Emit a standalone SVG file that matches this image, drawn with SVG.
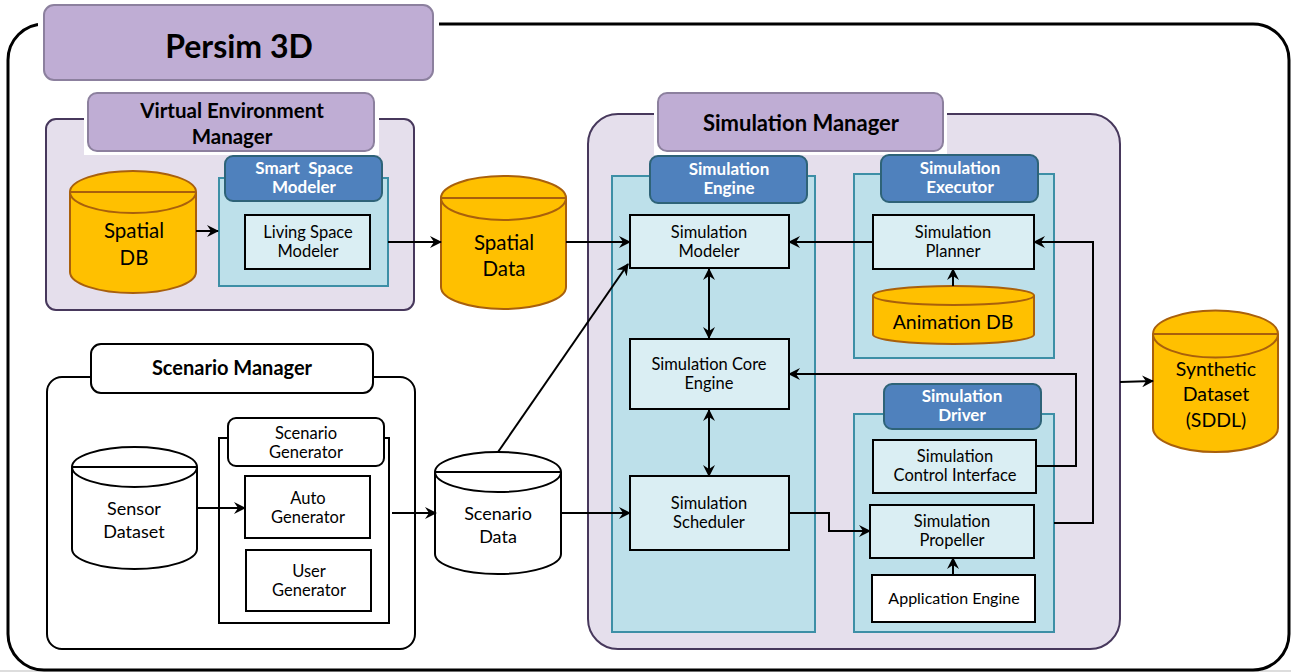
<svg xmlns="http://www.w3.org/2000/svg" width="1291" height="672" viewBox="0 0 1291 672">
<style>
text{font-family:Lato,"Open Sans","Liberation Sans",sans-serif;text-anchor:middle;fill:#000}
.b{font-weight:bold}
.w{fill:#fff;font-weight:bold;font-size:17px}
.t15{font-size:16.5px}
.t18{font-size:18px}
.t19{font-size:19.5px}
.hdr{fill:#bfadd4;stroke:#8c809e;stroke-width:2}
.cont{fill:#e5dfec;stroke:#47385c;stroke-width:2}
.panel{fill:#bde0ea;stroke:#3d8fa6;stroke-width:2}
.bhdr{fill:#4f81bd;stroke:#2e6378;stroke-width:2}
.box{fill:#daeef3;stroke:#000;stroke-width:2}
.wbox{fill:#fff;stroke:#000;stroke-width:2}
.cyl{fill:#ffc000;stroke:#a9600c;stroke-width:2}
.wcyl{fill:#fff;stroke:#000;stroke-width:2}
.ln{fill:none;stroke:#000;stroke-width:2}
</style>
<defs>
<marker id="ah" viewBox="0 0 12 12" refX="11" refY="6" markerWidth="12" markerHeight="12" markerUnits="userSpaceOnUse" orient="auto-start-reverse">
<path d="M0,0 L12,6 L0,12 L4,6 Z" fill="#000"/>
</marker>
</defs>
<rect width="1291" height="672" fill="#fff"/>
<line x1="0" y1="671" x2="1291" y2="671" stroke="#bbb" stroke-width="1"/>
<!-- outer frame -->
<g id="frame">
<rect x="8" y="24" width="1281" height="646" rx="36" fill="none" stroke="#000" stroke-width="3"/>
<rect x="38" y="2" width="401" height="84" fill="#fff"/>
</g>
<g id="persim-title">
<rect class="hdr" x="44" y="5" width="389" height="75" rx="10"/>
<text class="b" x="239" y="58" style="font-size:32px">Persim 3D</text>
</g>
<!-- Virtual Environment Manager -->
<g id="vem">
<rect class="cont" x="46" y="119" width="368" height="191" rx="10"/>
<rect x="84" y="90" width="295" height="65" fill="#fff"/>
<rect class="hdr" x="88" y="93" width="286" height="58" rx="9"/>
<text class="b" x="232" y="118" style="font-size:20.5px">Virtual Environment</text>
<text class="b" x="232" y="144" style="font-size:20.5px">Manager</text>
</g>
<g id="spatial-db">
<path class="cyl" d="M70,192 V272 A63,21 0 0 0 196,272 V192"/>
<ellipse class="cyl" cx="133" cy="192" rx="63" ry="21"/>
<line x1="70" y1="192" x2="196" y2="192" stroke="#a9600c" stroke-width="2"/>
<text style="font-size:20.5px" x="134" y="238">Spatial</text>
<text style="font-size:20.5px" x="134" y="265">DB</text>
</g>
<g id="smart-space-modeler">
<rect class="panel" x="219" y="178" width="169" height="108"/>
<rect class="bhdr" x="225" y="156" width="157" height="45" rx="8"/>
<text class="w" x="304" y="174" xml:space="preserve">Smart  Space</text>
<text class="w" x="304" y="193">Modeler</text>
</g>
<g id="living-space-modeler">
<rect class="box" x="245" y="215" width="125" height="54"/>
<text class="t15" x="308" y="238">Living Space</text>
<text class="t15" x="308" y="257">Modeler</text>
</g>
<g id="spatial-data">
<path class="cyl" d="M441,198 V287 A62.5,22 0 0 0 566,287 V198"/>
<ellipse class="cyl" cx="503.5" cy="198" rx="62.5" ry="22"/>
<line x1="441" y1="198" x2="566" y2="198" stroke="#a9600c" stroke-width="2"/>
<text style="font-size:20.5px" x="504" y="250">Spatial</text>
<text style="font-size:20.5px" x="504" y="276">Data</text>
</g>
<!-- Simulation Manager -->
<g id="simulation-manager">
<rect class="cont" x="588" y="114" width="532" height="535" rx="30"/>
<rect x="654" y="90" width="293" height="65" fill="#fff"/>
<rect class="hdr" x="658" y="93" width="285" height="58" rx="9"/>
<text class="b" x="801" y="131" style="font-size:22px">Simulation Manager</text>
</g>
<g id="simulation-engine">
<rect class="panel" x="612" y="176" width="203" height="456"/>
<rect class="bhdr" x="650" y="156" width="157" height="47" rx="8"/>
<text class="w" x="729" y="175">Simulation</text>
<text class="w" x="729" y="194">Engine</text>
</g>
<g id="simulation-modeler">
<rect class="box" x="630" y="215" width="159" height="53"/>
<text class="t15" x="709" y="238">Simulation</text>
<text class="t15" x="709" y="257">Modeler</text>
</g>
<g id="simulation-core-engine">
<rect class="box" x="630" y="339" width="159" height="70"/>
<text class="t15" x="709" y="370">Simulation Core</text>
<text class="t15" x="709" y="389">Engine</text>
</g>
<g id="simulation-scheduler">
<rect class="box" x="630" y="476" width="159" height="74"/>
<text class="t15" x="709" y="509">Simulation</text>
<text class="t15" x="709" y="528">Scheduler</text>
</g>
<g id="simulation-executor">
<rect class="panel" x="854" y="174" width="200" height="184"/>
<rect class="bhdr" x="881" y="155" width="157" height="47" rx="8"/>
<text class="w" x="960" y="174">Simulation</text>
<text class="w" x="960" y="193">Executor</text>
</g>
<g id="simulation-planner">
<rect class="box" x="873" y="215" width="161" height="54"/>
<text class="t15" x="953" y="238">Simulation</text>
<text class="t15" x="953" y="257">Planner</text>
</g>
<g id="animation-db">
<path class="cyl" d="M873,295.5 V334.5 A80.5,9.5 0 0 0 1034,334.5 V295.5"/>
<ellipse class="cyl" cx="953.5" cy="295.5" rx="80.5" ry="9.5"/>
<text style="font-size:19.5px" x="953" y="329">Animation DB</text>
</g>
<g id="simulation-driver">
<rect class="panel" x="854" y="414" width="200" height="218"/>
<rect class="bhdr" x="884" y="384" width="157" height="45" rx="8"/>
<text class="w" x="962" y="402">Simulation</text>
<text class="w" x="962" y="421">Driver</text>
</g>
<g id="simulation-control-interface">
<rect class="box" x="873" y="440" width="163" height="53"/>
<text class="t15" x="955" y="462">Simulation</text>
<text class="t15" x="955" y="481">Control Interface</text>
</g>
<g id="simulation-propeller">
<rect class="box" x="870" y="505" width="164" height="53"/>
<text class="t15" x="952" y="527">Simulation</text>
<text class="t15" x="952" y="546">Propeller</text>
</g>
<g id="application-engine">
<rect class="wbox" x="872" y="575" width="163" height="47"/>
<text x="954" y="604" style="font-size:16px">Application Engine</text>
</g>
<g id="synthetic-dataset">
<path class="cyl" d="M1153,334 V428 A62.5,24 0 0 0 1278,428 V334"/>
<ellipse class="cyl" cx="1215.5" cy="334" rx="62.5" ry="23.5"/>
<line x1="1153" y1="334" x2="1278" y2="334" stroke="#a9600c" stroke-width="2"/>
<text class="t19" x="1216" y="376">Synthetic</text>
<text class="t19" x="1216" y="401">Dataset</text>
<text class="t19" x="1216" y="427">(SDDL)</text>
</g>
<!-- Scenario Manager -->
<g id="scenario-manager">
<rect x="47" y="377" width="368" height="272" rx="15" fill="#fff" stroke="#000" stroke-width="2"/>
<rect x="91" y="344" width="282" height="49" rx="10" fill="#fff" stroke="#000" stroke-width="2"/>
<text class="b" x="232" y="375" style="font-size:20px">Scenario Manager</text>
</g>
<g id="sensor-dataset">
<path class="wcyl" d="M72,467 V549 A62.5,20 0 0 0 197,549 V467"/>
<ellipse class="wcyl" cx="134.5" cy="467" rx="62.5" ry="20"/>
<line x1="72" y1="467" x2="197" y2="467" stroke="#000" stroke-width="2"/>
<text class="t18" x="134" y="515">Sensor</text>
<text class="t18" x="134" y="538">Dataset</text>
</g>
<g id="scenario-generator">
<rect class="wbox" x="219" y="438" width="170" height="185"/>
<rect x="228" y="418" width="156" height="48" rx="8" fill="#fff" stroke="#000" stroke-width="2"/>
<text class="t15" x="306" y="439">Scenario</text>
<text class="t15" x="306" y="458">Generator</text>
</g>
<g id="auto-generator">
<rect class="wbox" x="245" y="476" width="125" height="62"/>
<text class="t15" x="308" y="504">Auto</text>
<text class="t15" x="308" y="523">Generator</text>
</g>
<g id="user-generator">
<rect class="wbox" x="246" y="550" width="125" height="61"/>
<text class="t15" x="309" y="577">User</text>
<text class="t15" x="309" y="596">Generator</text>
</g>
<g id="scenario-data">
<path class="wcyl" d="M435,472 V554 A63,20 0 0 0 561,554 V472"/>
<ellipse class="wcyl" cx="498" cy="472" rx="63" ry="20"/>
<line x1="435" y1="472" x2="561" y2="472" stroke="#000" stroke-width="2"/>
<text class="t18" x="498" y="520">Scenario</text>
<text class="t18" x="498" y="543">Data</text>
</g>
<!-- connectors -->
<g id="connectors" class="ln">
<path class="ln" d="M196,231 H218" marker-end="url(#ah)"/>
<path class="ln" d="M388,242 H441" marker-end="url(#ah)"/>
<path class="ln" d="M566,242 H630" marker-end="url(#ah)"/>
<path class="ln" d="M498,452 L628,264" marker-end="url(#ah)"/>
<path class="ln" d="M561,513 H630" marker-end="url(#ah)"/>
<path class="ln" d="M197,508 H245" marker-end="url(#ah)"/>
<path class="ln" d="M392,513 H436" marker-end="url(#ah)"/>
<path class="ln" d="M709,269 V338" marker-start="url(#ah)" marker-end="url(#ah)"/>
<path class="ln" d="M709,410 V476" marker-start="url(#ah)" marker-end="url(#ah)"/>
<path class="ln" d="M873,242 H789" marker-end="url(#ah)"/>
<path class="ln" d="M953,286 V269" marker-end="url(#ah)"/>
<path class="ln" d="M1036,466 H1076 V374 H789" marker-end="url(#ah)"/>
<path class="ln" d="M1054,523 H1093 V242 H1034" marker-end="url(#ah)"/>
<path class="ln" d="M789,513 H829 V531 H870" marker-end="url(#ah)"/>
<path class="ln" d="M953,575 V558" marker-end="url(#ah)"/>
<path class="ln" d="M1120,382 L1153,381" marker-end="url(#ah)"/>
</g>
</svg>
